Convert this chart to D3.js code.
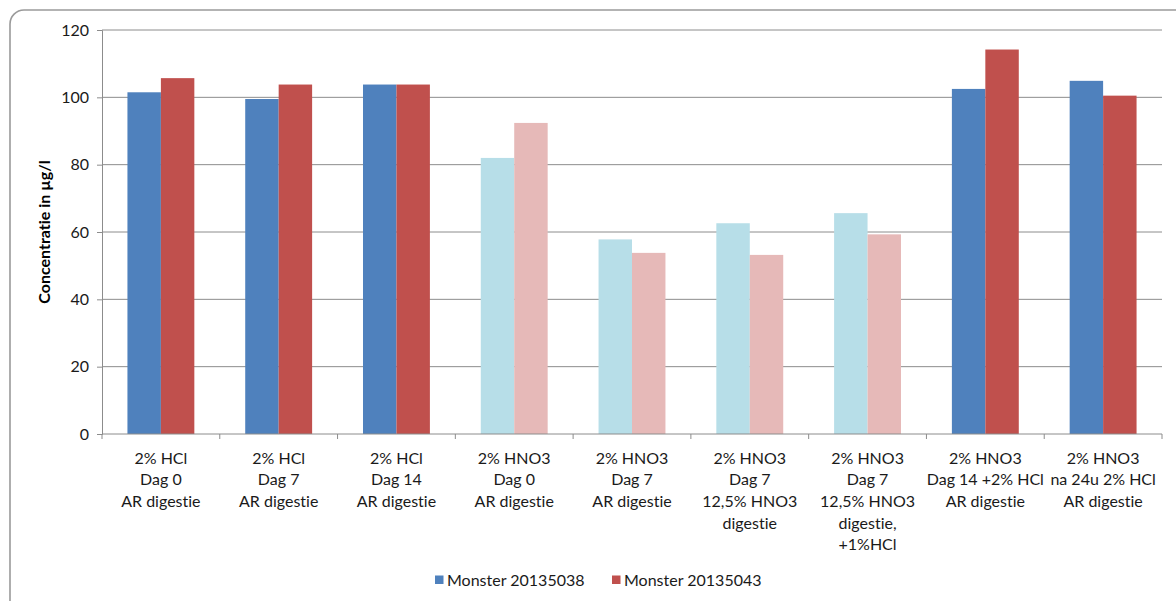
<!DOCTYPE html>
<html>
<head>
<meta charset="utf-8">
<script src="https://cdn.jsdelivr.net/npm/d3@7"></script>
<style>
  html, body { margin: 0; padding: 0; background: #fff; }
  svg { display: block; font-family: Lato, "Open Sans", sans-serif; font-variant-ligatures: none; font-feature-settings: "liga" 0, "dlig" 0; }
</style>
</head>
<body>
<svg id="chart" width="1176" height="601"></svg>
<script>
// Category labels (one entry per line of each label)
const categories = [
  ["2% HCl", "Dag 0", "AR digestie"],
  ["2% HCl", "Dag 7", "AR digestie"],
  ["2% HCl", "Dag 14", "AR digestie"],
  ["2% HNO3", "Dag 0", "AR digestie"],
  ["2% HNO3", "Dag 7", "AR digestie"],
  ["2% HNO3", "Dag 7", "12,5% HNO3", "digestie"],
  ["2% HNO3", "Dag 7", "12,5% HNO3", "digestie,", "+1%HCl"],
  ["2% HNO3", "Dag 14 +2% HCl", "AR digestie"],
  ["2% HNO3", "na 24u 2% HCl", "AR digestie"]
];
const seriesNames = ["Monster 20135038", "Monster 20135043"];
const monster20135038 = [101.5, 99.5, 103.8, 82.0, 57.8, 62.6, 65.6, 102.5, 104.9];
const monster20135043 = [105.7, 103.8, 103.8, 92.4, 53.8, 53.2, 59.3, 114.2, 100.5];
const yTicks = [0, 20, 40, 60, 80, 100, 120];
// Groups drawn in the paler tint
const paleGroups = [3, 4, 5, 6];

const svg = d3.select("#chart");
const W = 1176, H = 601;

// Rounded chart frame
svg.append("rect")
  .attr("x", 10).attr("y", 10)
  .attr("width", W + 20).attr("height", H + 10)
  .attr("rx", 14).attr("ry", 14)
  .attr("fill", "#fff")
  .attr("stroke", "#9a9a9a")
  .attr("stroke-width", 1.6);

const plot = { left: 102, right: 1162, top: 30, bottom: 434 };

const x = d3.scaleBand()
  .domain(d3.range(categories.length))
  .range([plot.left, plot.right])
  .paddingInner(0).paddingOuter(0);

const bw = x.bandwidth();
const xSub = d3.scaleBand()
  .domain([0, 1])
  .range([bw * 0.216, bw * 0.784]);

const y = d3.scaleLinear().domain([0, 120]).range([plot.bottom, plot.top]);

// Horizontal gridlines
svg.append("g")
  .selectAll("line")
  .data(yTicks.filter(t => t > 0))
  .join("line")
  .attr("x1", plot.left).attr("x2", plot.right)
  .attr("y1", d => y(d)).attr("y2", d => y(d))
  .attr("stroke", "#8c8c8c")
  .attr("stroke-width", 1);

// Bars
const normal = ["#4F81BD", "#C0504D"];
const pale = ["#B7DEE8", "#E6B9B8"];
const rows = categories.map((c, i) => ({ i, vals: [monster20135038[i], monster20135043[i]] }));

const groups = svg.append("g")
  .selectAll("g")
  .data(rows)
  .join("g")
  .attr("transform", d => `translate(${x(d.i)},0)`);

groups.selectAll("rect")
  .data(d => d.vals.map((v, s) => ({ v, s, i: d.i })))
  .join("rect")
  .attr("x", d => xSub(d.s))
  .attr("width", xSub.bandwidth())
  .attr("y", d => y(d.v))
  .attr("height", d => y(0) - y(d.v))
  .attr("fill", d => (paleGroups.includes(d.i) ? pale : normal)[d.s]);

// Y axis
const yAxis = d3.axisLeft(y).tickValues(yTicks).tickSize(5).tickPadding(8);
const gy = svg.append("g")
  .attr("transform", `translate(${plot.left},0)`)
  .call(yAxis);
gy.select(".domain").attr("stroke", "#8c8c8c");
gy.selectAll(".tick line").attr("stroke", "#8c8c8c");
gy.selectAll(".tick text")
  .attr("font-size", 16)
  .attr("fill", "#1a1a1a")
  .attr("font-family", "Lato, sans-serif");

// X axis line and category boundary ticks
svg.append("line")
  .attr("x1", plot.left).attr("x2", plot.right)
  .attr("y1", plot.bottom).attr("y2", plot.bottom)
  .attr("stroke", "#8c8c8c");
svg.append("g")
  .selectAll("line")
  .data(d3.range(categories.length + 1))
  .join("line")
  .attr("x1", d => plot.left + d * bw).attr("x2", d => plot.left + d * bw)
  .attr("y1", plot.bottom).attr("y2", plot.bottom + 5)
  .attr("stroke", "#8c8c8c");

// Category labels
const lbl = svg.append("g")
  .selectAll("text")
  .data(categories)
  .join("text")
  .attr("text-anchor", "middle")
  .attr("font-size", 16)
  .attr("fill", "#1a1a1a");
lbl.selectAll("tspan")
  .data((d, i) => d.map(line => ({ line, i })))
  .join("tspan")
  .attr("x", d => x(d.i) + bw / 2)
  .attr("y", (d, k) => 463.5 + k * 21.7)
  .text(d => d.line);

// Y axis title
svg.append("text")
  .attr("transform", `translate(50,${(plot.top + plot.bottom) / 2}) rotate(-90)`)
  .attr("text-anchor", "middle")
  .attr("font-size", 16)
  .attr("font-weight", "bold")
  .attr("fill", "#000")
  .text("Concentratie in µg/l");

// Legend
const legendX = [435, 612];
const leg = svg.append("g")
  .selectAll("g")
  .data(seriesNames)
  .join("g")
  .attr("transform", (d, i) => `translate(${legendX[i]},580)`);
leg.append("rect")
  .attr("x", 0).attr("y", -4.5)
  .attr("width", 8.5).attr("height", 8.5)
  .attr("fill", (d, i) => normal[i]);
leg.append("text")
  .attr("x", 12).attr("y", 5.5)
  .attr("font-size", 16)
  .attr("fill", "#1a1a1a")
  .text(d => d);
</script>
</body>
</html>
